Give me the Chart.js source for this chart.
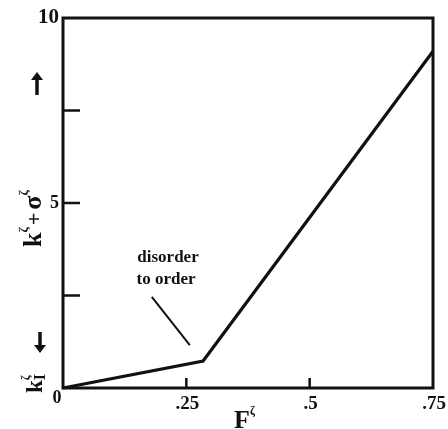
<!DOCTYPE html>
<html>
<head>
<meta charset="utf-8">
<script src="https://cdn.jsdelivr.net/npm/chart.js@4"></script>
<style>
  html, body { margin: 0; padding: 0; background: #fff; }
  #wrap { width: 448px; height: 429px; }
</style>
</head>
<body>
<div id="wrap"><canvas id="chart" width="448" height="429"></canvas></div>
<script>
// Values
const fValues = [0, 0.284, 0.75];
const kValues = [0, 0.73, 9.1];

// pointer from the "disorder to order" note to the kink
const pointerF = [0.18, 0.257];
const pointerK = [2.46, 1.16];

const xTicks = [0.25, 0.5, 0.75];
const xTickLabels = [".25", ".5", ".75"];
const yTicks = [2.5, 5, 7.5, 10];
const yTickLabels = ["", "5", "", "10"];

const SERIF = "'Liberation Serif', 'DejaVu Serif', serif";

// draws a run of text pieces along one baseline (sub/superscripts via dy)
function drawRun(ctx, parts, x, y, angle) {
  ctx.save();
  ctx.translate(x, y);
  ctx.rotate(angle);
  ctx.textAlign = "left";
  ctx.textBaseline = "alphabetic";
  let pos = 0;
  for (const p of parts) {
    ctx.font = "bold " + p.size + "px " + SERIF;
    ctx.fillText(p.t, pos, p.dy || 0);
    if (p.advance !== false) pos += ctx.measureText(p.t).width + (p.gap || 0);
  }
  ctx.restore();
}

// heavy arrow, dir = -1 up, 1 down
function arrow(ctx, x, y0, y1, dir) {
  const tip = dir < 0 ? y0 : y1;
  const base = dir < 0 ? y1 : y0;
  ctx.beginPath();
  ctx.lineWidth = 3.5;
  ctx.moveTo(x, base);
  ctx.lineTo(x, tip - dir * 6);
  ctx.stroke();
  ctx.beginPath();
  ctx.moveTo(x, tip);
  ctx.lineTo(x - 6, tip - dir * 8);
  ctx.lineTo(x + 6, tip - dir * 8);
  ctx.closePath();
  ctx.fill();
}

const frame = {
  id: "frame",
  afterDraw(chart) {
    const { ctx, chartArea: a, scales } = chart;
    const xs = scales.x, ys = scales.y;
    ctx.save();
    ctx.strokeStyle = "#111";
    ctx.fillStyle = "#111";
    ctx.lineWidth = 3;
    ctx.strokeRect(a.left, a.top, a.right - a.left, a.bottom - a.top);

    // inward tick marks
    ctx.lineWidth = 2.5;
    ctx.beginPath();
    xTicks.slice(0, 2).forEach((v) => {
      const px = xs.getPixelForValue(v);
      ctx.moveTo(px, a.bottom);
      ctx.lineTo(px, a.bottom - 10);
    });
    yTicks.slice(0, 3).forEach((v) => {
      const py = ys.getPixelForValue(v);
      ctx.moveTo(a.left, py);
      ctx.lineTo(a.left + 17, py);
    });
    ctx.stroke();

    // tick labels
    ctx.font = "bold 19px " + SERIF;
    ctx.textAlign = "center";
    ctx.textBaseline = "middle";
    xTicks.forEach((v, i) => {
      ctx.fillText(xTickLabels[i], xs.getPixelForValue(v) + 1, a.bottom + 16);
    });
    ctx.textAlign = "right";
    yTicks.forEach((v, i) => {
      if (!yTickLabels[i]) return;
      ctx.font = (v === 10 ? "bold 21px " : "bold 18px ") + SERIF;
      ctx.fillText(yTickLabels[i], a.left - 4, ys.getPixelForValue(v));
    });
    ctx.font = "bold 18px " + SERIF;
    ctx.textAlign = "center";
    ctx.fillText("0", a.left - 6, a.bottom + 10);

    // annotation
    ctx.font = "bold 17px " + SERIF;
    ctx.textBaseline = "alphabetic";
    ctx.fillText("disorder", 168, 262);
    ctx.fillText("to order", 166, 284);

    // x title
    drawRun(ctx, [
      { t: "F", size: 26 },
      { t: "ζ", size: 12, dy: -13 }
    ], 234, 428, 0);

    // y title, rotated
    const up = -Math.PI / 2;
    drawRun(ctx, [
      { t: "k", size: 26 },
      { t: "ζ", size: 13, dy: -13, gap: 2 },
      { t: "+", size: 22, gap: 3 },
      { t: "σ", size: 26 },
      { t: "ζ", size: 13, dy: -13 }
    ], 41, 247, up);
    drawRun(ctx, [
      { t: "k", size: 23 },
      { t: "ζ", size: 12, dy: -12, advance: false },
      { t: "I", size: 16, dy: 3 }
    ], 42, 393, up);

    arrow(ctx, 37, 72, 95, -1);
    arrow(ctx, 40, 332, 353, 1);
    ctx.restore();
  }
};

new Chart(document.getElementById("chart"), {
  type: "line",
  data: {
    datasets: [
      {
        data: fValues.map((f, i) => ({ x: f, y: kValues[i] })),
        borderColor: "#111",
        borderWidth: 3.2,
        fill: false,
        tension: 0,
        clip: false,
      },
      {
        data: pointerF.map((f, i) => ({ x: f, y: pointerK[i] })),
        borderColor: "#111",
        borderWidth: 2,
        fill: false,
        tension: 0,
      },
    ],
  },
  options: {
    responsive: false,
    animation: false,
    layout: { padding: { left: 63, top: 18, right: 15, bottom: 41 } },
    elements: { point: { radius: 0 } },
    plugins: { legend: { display: false }, tooltip: { enabled: false } },
    scales: {
      x: { type: "linear", min: 0, max: 0.75, display: false },
      y: { type: "linear", min: 0, max: 10, display: false },
    },
  },
  plugins: [frame],
});
</script>
</body>
</html>
